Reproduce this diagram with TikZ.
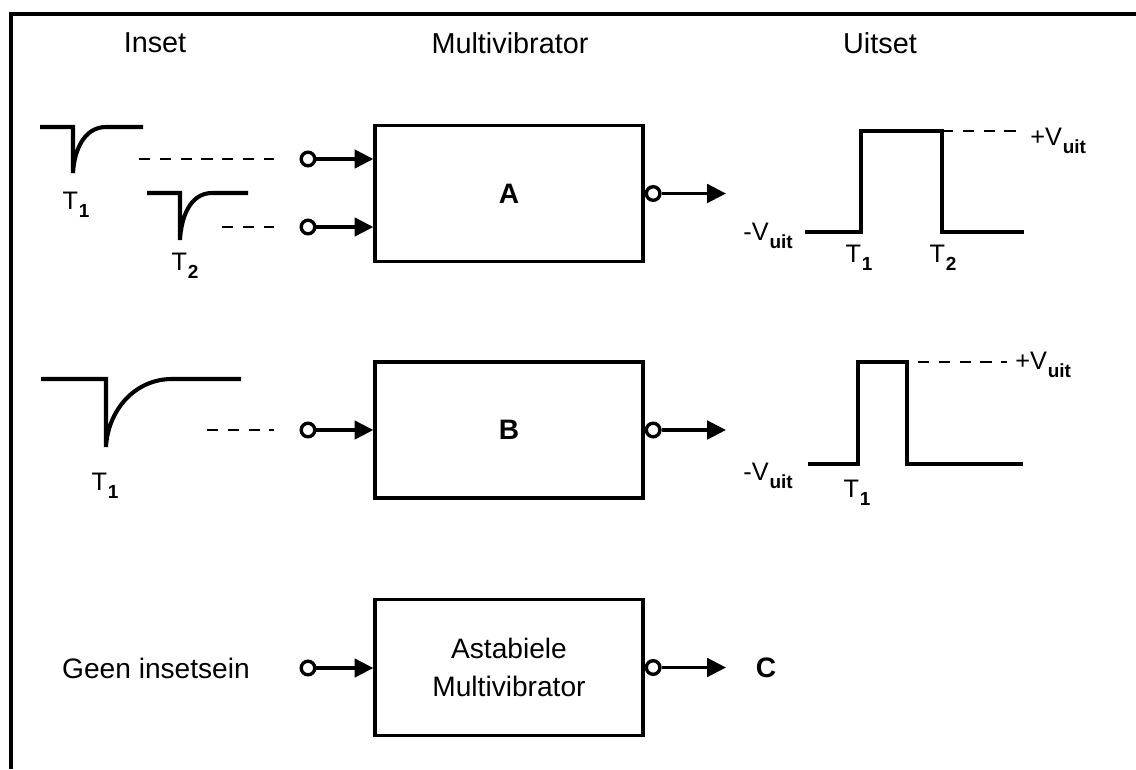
\documentclass[tikz,border=0pt]{standalone}
\usepackage{fontspec}
\setmainfont{Liberation Sans}
\usetikzlibrary{arrows.meta}
\newcommand{\subidx}[1]{\kern0.6pt\raisebox{-0.55ex}{\fontsize{13.5}{14}\selectfont\bfseries #1}}

\begin{document}
\begin{tikzpicture}[x=0.025cm,y=-0.025cm,
  mvbox/.style={draw,line width=2.3pt,minimum width=6.7cm,minimum height=3.4cm,
    align=center,font=\fontsize{20}{26.5}\selectfont},
  port/.style={circle,draw,line width=2.4pt,fill=white,inner sep=0pt,minimum size=0.34cm},
  feed/.style={line width=2.4pt,-{Triangle[length=0.47cm,width=0.46cm]}},
  lead/.style={line width=1.1pt,dash pattern=on 0.28cm off 0.24cm},
  wave/.style={line width=2.9pt,line join=miter},
  head/.style={font=\fontsize{20.5}{24}\selectfont},
  tlab/.style={inner sep=0pt,font=\fontsize{18}{21}\selectfont}]
\useasboundingbox (0,0) rectangle (1136,769);

% frame
\draw[line width=2.8pt] (11,769) -- (11,14) -- (1136,14);

% column headings
\node[head] (hIn) at (155,43) {Inset};
\node[head] (hMv) at (510,43) {Multivibrator};
\node[head] (hUit) at (880,43) {Uitset};

% the three blocks
\node[mvbox] (boxA) at (509,193.5) {\bfseries A};
\node[mvbox] (boxB) at (509,430) {\bfseries B};
\node[mvbox] (boxC) at (509,667.5) {Astabiele\\Multivibrator};

% inputs
\node[port] (inA1) at (308,159) {};
\node[port] (inA2) at (308,227) {};
\node[port] (inB) at (308,430) {};
\node[port] (inC) at (308,668) {};
\foreach \p/\b in {inA1/boxA,inA2/boxA,inB/boxB,inC/boxC}
  \draw[feed] (\p) -- (\p -| \b.west);

% outputs
\coordinate (uit) at (726,0);
\foreach \b in {A,B,C} {
  \node[port,anchor=west] (out\b) at (box\b.east) {};
  \draw[feed] (out\b) -- (out\b -| uit);
}
\node[font=\fontsize{20}{24}\selectfont\bfseries] (labC) at (766,668) {C};
\node[font=\fontsize{20}{24}\selectfont] (geen) at (156,668) {Geen insetsein};

% trigger pulses
\draw[wave] (40,127) -- (73,127) -- (73,173) to[out=87,in=180] (106,127) -- (143,127);
\node[tlab,anchor=north] (tA1) at (76,192) {T\subidx{1}};
\draw[wave] (147,193) -- (180,193) -- (180,240) to[out=87,in=180] (212,193) -- (248,193);
\node[tlab,anchor=north] (tA2) at (185,253) {T\subidx{2}};
\draw[wave] (41,379) -- (106,379) -- (106,447) to[out=87,in=180] (172,379) -- (241,379);
\node[tlab,anchor=north] (tB1) at (105,473) {T\subidx{1}};

\coordinate (pA1) at (139,159);
\coordinate (pA2) at (222,227);
\coordinate (pB) at (207,430);
\draw[lead,shorten >=0.65cm] (pA1) -- (inA1);
\draw[lead,shorten >=0.65cm] (pA2) -- (inA2);
\draw[lead,shorten >=0.65cm] (pB) -- (inB);

% output pulse A
\draw[wave] (805,232) -- (861,232) -- (861,131) -- (942,131) -- (942,232) -- (1024,232);
\draw[lead] (942,131) -- (1018,131);
\node[tlab,anchor=north east] (vlA) at (793,223) {-V\subidx{uit}};
\node[tlab,anchor=north west] (vhA) at (1030,128) {+V\subidx{uit}};
\node[tlab,anchor=north] (uA1) at (859,245) {T\subidx{1}};
\node[tlab,anchor=north] (uA2) at (943,245) {T\subidx{2}};

% output pulse B
\draw[wave] (808,464) -- (858,464) -- (858,362) -- (907,362) -- (907,464) -- (1023,464);
\draw[lead] (918,362) -- (1007,362);
\node[tlab,anchor=north east] (vlB) at (793,463) {-V\subidx{uit}};
\node[tlab,anchor=north west] (vhB) at (1015,352) {+V\subidx{uit}};
\node[tlab,anchor=north] (uB1) at (857,480) {T\subidx{1}};
\end{tikzpicture}
\end{document}
